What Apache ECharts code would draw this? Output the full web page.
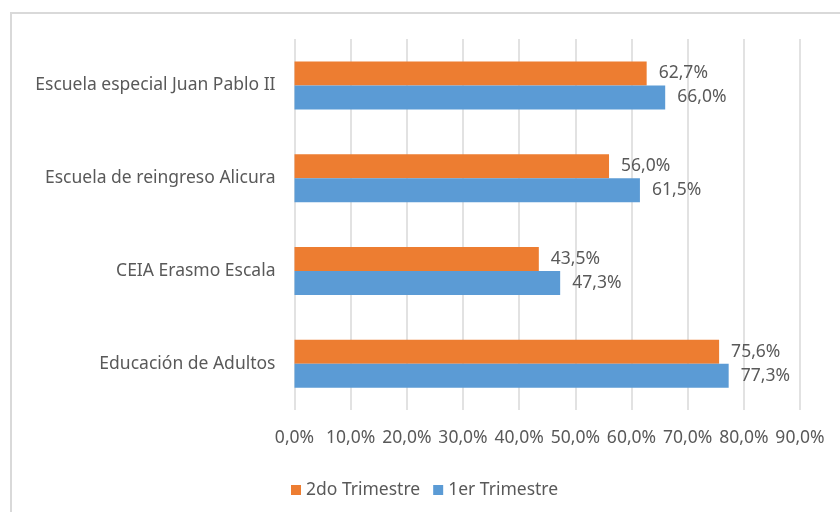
<!DOCTYPE html>
<html style="height: 100%">
<head>
    <meta charset="utf-8">
</head>
<body style="height: 100%; margin: 0">
<div id="container" style="width: 840px; height: 512px"></div>
<script type="text/javascript" src="https://cdn.jsdelivr.net/npm/echarts@6/dist/echarts.min.js"></script>
<script type="text/javascript">
// categorias (de abajo hacia arriba)
var categories = ['Educación de Adultos', 'CEIA Erasmo Escala', 'Escuela de reingreso Alicura', 'Escuela especial Juan Pablo II'];
var primerTrimestre = [77.3, 47.3, 61.5, 66.0];
var segundoTrimestre = [75.6, 43.5, 56.0, 62.7];
var xTicks = [0, 10, 20, 30, 40, 50, 60, 70, 80, 90];

var textColor = '#595959';
var fontName = 'Noto Sans';
var fs = 17.5;

function pct(v) {
    return v.toFixed(1).replace('.', ',') + '%';
}

var dom = document.getElementById('container');
var myChart = echarts.init(dom);

var label = {
    show: true,
    position: 'right',
    distance: 12,
    fontSize: fs,
    color: textColor,
    fontFamily: fontName,
    formatter: function (p) { return pct(p.value); }
};

var option = {
    animation: false,
    backgroundColor: '#fff',
    textStyle: { fontFamily: fontName, color: textColor },
    graphic: [{
        type: 'rect',
        shape: { x: 11, y: 13, width: 900, height: 600 },
        style: { fill: 'none', stroke: '#d9d9d9', lineWidth: 2 },
        silent: true
    }],
    legend: {
        data: ['2do Trimestre', '1er Trimestre'],
        left: 286,
        top: 476,
        icon: 'rect',
        itemWidth: 10,
        itemHeight: 10,
        itemGap: 13,
        textStyle: { fontSize: fs, color: textColor, fontFamily: fontName }
    },
    grid: {
        left: 294.5,
        right: 40,
        top: 39,
        bottom: 102
    },
    xAxis: {
        type: 'value',
        min: xTicks[0],
        max: xTicks[xTicks.length - 1],
        interval: 10,
        axisLine: { show: false },
        axisTick: { show: false },
        splitLine: { lineStyle: { color: '#d9d9d9', width: 1.5 } },
        axisLabel: {
            margin: 19,
            fontSize: fs,
            color: textColor,
            fontFamily: fontName,
            formatter: function (v) { return pct(v); }
        }
    },
    yAxis: {
        type: 'category',
        data: categories,
        axisLine: { show: false },
        axisTick: { show: false },
        axisLabel: {
            margin: 19,
            fontSize: fs,
            color: textColor,
            fontFamily: fontName
        }
    },
    series: [
        {
            name: '2do Trimestre',
            type: 'bar',
            data: segundoTrimestre,
            barWidth: 24,
            barGap: '0%',
            itemStyle: { color: '#ED7D31' },
            label: label
        },
        {
            name: '1er Trimestre',
            type: 'bar',
            data: primerTrimestre,
            barWidth: 24,
            barGap: '0%',
            itemStyle: { color: '#5B9BD5' },
            label: label
        }
    ]
};

myChart.setOption(option);
</script>
</body>
</html>
